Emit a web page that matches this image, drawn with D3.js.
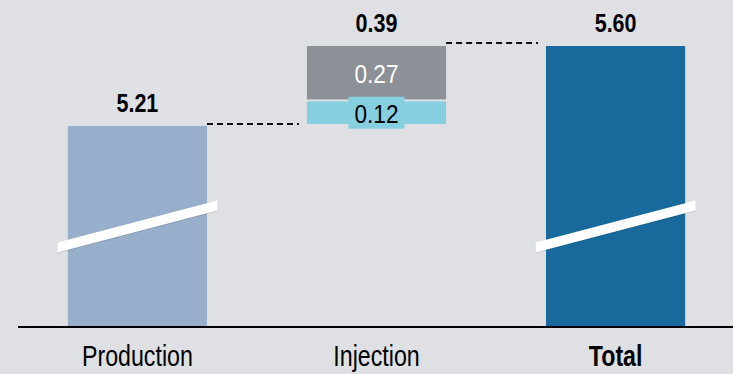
<!DOCTYPE html>
<html>
<head>
<meta charset="utf-8">
<script src="https://cdn.jsdelivr.net/npm/d3@7"></script>
<style>
  html, body { margin: 0; padding: 0; background: #dfe0e4; }
  svg { display: block; }
  text { font-family: "Liberation Sans", Arial, sans-serif; }
</style>
</head>
<body>
<svg width="733" height="374"></svg>
<script>
// data
const categories = ["Production", "Injection", "Total"];
const production = 5.21;
const injectionParts = [0.12, 0.27];   // bottom, top
const injectionTotal = 0.39;
const total = 5.60;
const axisStart = 4.235;               // broken axis, bars don't start at zero
const breakValue = 4.72;

const svg = d3.select("svg");
const W = 733, H = 374;

const x = d3.scaleBand()
  .domain(categories)
  .range([20, 733])
  .paddingInner(0.418)
  .paddingOuter(0.2);

const y = d3.scaleLinear()
  .domain([axisStart, total])
  .range([326, 46]);

const colors = {
  Production: "#98afcb",
  Total: "#176a9b",
  low: "#86cfe0",
  high: "#8c9097"
};

// narrow text: regular font squeezed horizontally
let narrowText = (sel, px, py, sx) =>
  sel.append("g")
    .attr("transform", `translate(${px},${py}) scale(${sx},1)`)
    .append("text")
    .attr("text-anchor", "middle");

// solid bars
let solid = [
  {cat: "Production", v: production, label: "5.21"},
  {cat: "Total", v: total, label: "5.60"}
];

svg.selectAll("rect.solid")
  .data(solid)
  .enter()
  .append("rect")
  .attr("class", "solid")
  .attr("x", d => x(d.cat))
  .attr("width", x.bandwidth())
  .attr("y", d => y(d.v))
  .attr("height", d => y(axisStart) - y(d.v))
  .attr("fill", d => colors[d.cat]);

// axis break slashes
let slash = (cx) => {
  let cy = y(breakValue), half = 80, dy = 21, t = 5;
  return [[cx - half, cy + dy - t], [cx + half, cy - dy - t],
          [cx + half, cy - dy + t], [cx - half, cy + dy + t]];
};
solid.forEach(d => {
  let cx = x(d.cat) + x.bandwidth() / 2;
  let pts = slash(cx);
  svg.append("polygon")
    .attr("points", pts.map(p => [p[0], p[1] + 1].join(",")).join(" "))
    .attr("fill", "#000")
    .attr("opacity", 0.12);
  svg.append("polygon")
    .attr("points", pts.map(p => p.join(",")).join(" "))
    .attr("fill", "#fff");
});

// injection stack
let stack = [];
let base = production;
injectionParts.forEach((v, i) => {
  stack.push({y0: base, y1: base + v, v: v, key: i === 0 ? "low" : "high"});
  base += v;
});

svg.selectAll("rect.stack")
  .data(stack)
  .enter()
  .append("rect")
  .attr("class", "stack")
  .attr("x", x("Injection"))
  .attr("width", x.bandwidth())
  .attr("y", d => y(d.y1))
  .attr("height", d => y(d.y0) - y(d.y1) - 2)
  .attr("fill", d => colors[d.key]);

let ix = x("Injection") + x.bandwidth() / 2;

// label box behind 0.12
let lowMid = (y(stack[0].y0) + y(stack[0].y1)) / 2;
svg.append("rect")
  .attr("x", ix - 28)
  .attr("width", 56)
  .attr("y", lowMid - 17)
  .attr("height", 32)
  .attr("fill", colors.low);

stack.forEach(d => {
  narrowText(svg, ix, (y(d.y0) + y(d.y1)) / 2 + 9, 0.87)
    .attr("font-size", 26)
    .attr("fill", d.key === "low" ? "#000" : "#fff")
    .text(d3.format(".2f")(d.v));
});

// connectors
let connectors = [
  {from: "Production", to: "Injection", v: production, off: 2},
  {from: "Injection", to: "Total", v: total, off: 3}
];
svg.selectAll("line.conn")
  .data(connectors)
  .enter()
  .append("line")
  .attr("class", "conn")
  .attr("x1", d => x(d.from) + x.bandwidth())
  .attr("x2", d => x(d.to) - 8)
  .attr("y1", d => y(d.v) - d.off)
  .attr("y2", d => y(d.v) - d.off)
  .attr("stroke", "#111")
  .attr("stroke-width", 2)
  .attr("stroke-dasharray", "6,4");

// top labels
let tops = [
  {cat: "Production", v: production, label: "5.21"},
  {cat: "Injection", v: total, label: injectionTotal.toFixed(2)},
  {cat: "Total", v: total, label: "5.60"}
];
tops.forEach(d => {
  narrowText(svg, x(d.cat) + x.bandwidth() / 2, y(d.v) - 14, 0.86)
    .attr("font-size", 25)
    .attr("font-weight", "bold")
    .attr("fill", "#000")
    .text(d.label);
});

// baseline
svg.append("line")
  .attr("x1", 18)
  .attr("x2", W)
  .attr("y1", y(axisStart) + 1)
  .attr("y2", y(axisStart) + 1)
  .attr("stroke", "#000")
  .attr("stroke-width", 2);

// category labels
categories.forEach(c => {
  narrowText(svg, x(c) + x.bandwidth() / 2, 366, 0.8)
    .attr("font-size", 29)
    .attr("font-weight", c === "Total" ? "bold" : "normal")
    .attr("fill", "#000")
    .text(c);
});
</script>
</body>
</html>
